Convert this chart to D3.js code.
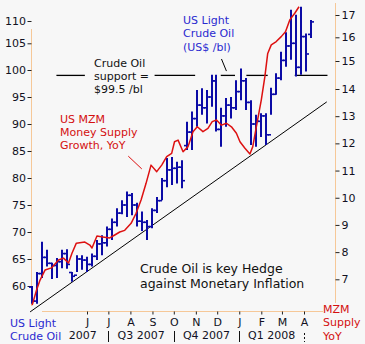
<!DOCTYPE html>
<html><head><meta charset="utf-8">
<script src="https://cdn.jsdelivr.net/npm/d3@7"></script>
<style>
html,body{margin:0;padding:0;background:#f7f7f7;}
svg{display:block;font-family:"DejaVu Sans",Verdana,sans-serif;}
</style></head>
<body><svg id="c" width="365" height="344"></svg>
<script>
// ---- data ----
const weekDates = ["2007-03-16","2007-03-23","2007-03-30","2007-04-06","2007-04-13","2007-04-20","2007-04-27",
"2007-05-04","2007-05-11","2007-05-18","2007-05-25","2007-06-01","2007-06-08","2007-06-15","2007-06-22","2007-06-29",
"2007-07-06","2007-07-13","2007-07-20","2007-07-27","2007-08-03","2007-08-10","2007-08-17","2007-08-24","2007-08-31",
"2007-09-07","2007-09-14","2007-09-21","2007-09-28","2007-10-05","2007-10-12","2007-10-19","2007-10-26",
"2007-11-02","2007-11-09","2007-11-16","2007-11-23","2007-11-30","2007-12-07","2007-12-14","2007-12-21","2007-12-28",
"2008-01-04","2008-01-11","2008-01-18","2008-01-25","2008-02-01","2008-02-08","2008-02-15","2008-02-22","2008-02-29",
"2008-03-07","2008-03-14","2008-03-21","2008-03-28","2008-04-04","2008-04-11"];
const oilHigh = [60.0,62.6,68.2,66.7,64.3,65.2,66.7,66.8,62.6,65.7,65.7,65.4,66.0,68.5,69.4,71.0,72.5,74.4,75.9,77.5,77.2,75.4,73.8,72.2,74.4,
76.5,80.0,83.7,83.9,83.0,83.3,90.4,92.3,96.3,96.6,96.3,99.1,99.1,93.0,94.8,95.0,98.1,100.3,98.5,94.4,91.7,92.0,92.0,96.7,99.4,103.4,
107.5,112.5,111.4,113.2,107.2,110.2];
const oilLow = [56.7,56.7,61.5,63.6,61.3,61.5,63.3,63.2,60.8,62.6,63.0,62.6,63.6,64.8,65.7,67.3,68.5,71.0,73.3,72.8,73.1,71.0,70.2,68.5,70.7,
73.5,75.9,78.3,78.7,79.0,78.1,85.2,85.2,89.5,91.7,90.1,93.2,88.6,85.8,89.5,91.0,92.6,94.4,92.6,86.1,85.8,87.6,86.1,91.7,95.4,98.1,
100.6,101.9,98.8,99.1,99.7,106.2];
const oilOpen = [59.8,57.2,62.3,65.3,64.2,63.8,64.5,66.0,62.5,62.0,65.0,64.8,64.0,65.5,67.8,68.0,70.5,71.8,73.5,75.0,76.8,75.0,72.0,71.8,71.0,
74.0,75.8,79.5,81.5,81.8,82.0,86.0,88.5,91.0,93.5,93.0,95.0,98.0,89.0,91.5,93.5,93.0,96.0,98.0,94.0,90.0,90.5,91.5,88.0,95.5,98.5,
101.8,104.5,105.0,100.5,106.5,107.0];
const oilClose = [57.2,62.3,65.3,64.2,63.8,64.5,66.0,64.0,61.8,65.0,64.8,64.0,65.5,67.8,68.0,70.5,71.8,73.5,75.0,76.8,75.0,72.0,71.8,71.0,74.0,
75.8,79.5,81.5,81.8,82.0,79.5,88.5,91.0,93.5,93.0,95.0,98.0,89.0,91.5,93.5,93.0,96.0,98.0,94.0,90.0,90.5,91.5,88.0,95.5,98.5,101.8,
104.5,105.0,100.5,106.5,103.0,109.8];

const mzmDates = ["2007-03-16","2007-03-22","2007-03-27","2007-04-03","2007-04-12","2007-04-22","2007-04-29","2007-05-06","2007-05-11",
"2007-05-17","2007-05-29","2007-06-05","2007-06-08","2007-06-15","2007-06-23","2007-07-03","2007-07-10","2007-07-17","2007-07-24",
"2007-08-02","2007-08-09","2007-08-16","2007-08-23","2007-08-30","2007-09-07","2007-09-14","2007-09-21","2007-09-28","2007-10-02",
"2007-10-07","2007-10-14","2007-10-21","2007-10-28","2007-11-03","2007-11-11","2007-11-18","2007-11-24","2007-11-30","2007-12-07",
"2007-12-14","2007-12-21","2007-12-28","2008-01-02","2008-01-09","2008-01-16","2008-01-20","2008-01-25","2008-02-01","2008-02-06",
"2008-02-10","2008-02-15","2008-02-22","2008-02-29","2008-03-06","2008-03-12","2008-03-19","2008-03-25"];
const mzmYoY = [6.05,6.6,6.97,7.34,7.42,7.71,7.78,7.6,7.97,8.33,8.37,8.26,8.15,8.59,8.56,8.52,8.63,8.74,8.8,
9.06,9.43,9.92,10.53,11.2,10.96,11.2,11.51,11.63,12.06,12.12,11.69,11.88,12.43,12.61,12.43,12.55,12.8,12.86,12.67,
12.74,12.61,12.37,12.06,11.82,11.61,11.88,12.61,13.6,14.44,15.32,15.68,15.82,16.03,16.25,16.78,17.08,17.37];

const leftTicks = [60,65,70,75,80,85,90,95,100,105,110];
const rightTicks = [7,8,9,10,11,12,13,14,15,16,17];
const monthTicks = ["2007-06-01","2007-07-01","2007-08-01","2007-09-01","2007-10-01","2007-11-01","2007-12-01",
"2008-01-01","2008-02-01","2008-03-01","2008-04-01"];
const monthLabels = ["J","J","A","S","O","N","D","J","F","M","A"];
const quarterLabels = ["2007","Q3 2007","Q4 2007","Q1 2008"];
const quarterStarts = ["2007-04-20","2007-07-01","2007-10-01","2008-01-01"];
const quarterEnds   = ["2007-07-01","2007-10-01","2008-01-01","2008-04-01"];
const quarterDividers = ["2007-07-01","2007-10-01","2008-01-01","2008-04-01"];

const trendLine = [["2007-03-13",55.2],["2008-05-03",94.1]];
const supportLevel = 99.0;
const supportSegments = [["2007-04-19","2007-05-29"],["2007-09-04","2007-10-31"],["2007-12-06","2007-12-26"],
["2008-01-11","2008-02-10"],["2008-03-19","2008-05-04"]];
const mzmPointer = [["2007-07-29",11.53],["2007-08-17",11.06]];
const oilPointer = [["2007-12-07",102.06],["2007-12-14",99.8]];

// ---- drawing ----
const P = d3.timeParse("%Y-%m-%d");
const svg = d3.select("#c");
const BLUE = "#0b0ba6", RED = "#dd1111", AX = "#f6c898", TXT = "#111122";

const x = d3.scaleTime().domain([P("2007-06-01"), P("2008-04-01")]).range([87, 304]);
const yL = d3.scaleLinear().domain([60,100,105,110]).range([286,70,43.3,21]);
const yR = d3.scaleLinear().domain([7,14,15,16,17]).range([279.3,89,61,37.3,15]);

svg.append("rect").attr("width",365).attr("height",344).attr("fill","#f7f7f7");

// axis lines
svg.append("line").attr("x1",31.5).attr("x2",31.5).attr("y1",29).attr("y2",306).attr("stroke",AX).attr("stroke-width",1);
svg.append("line").attr("x1",335.5).attr("x2",335.5).attr("y1",3).attr("y2",303).attr("stroke",AX).attr("stroke-width",1);
svg.append("line").attr("x1",42).attr("x2",323).attr("y1",311.5).attr("y2",311.5).attr("stroke",AX).attr("stroke-width",1);

// left axis
const gl = svg.append("g").attr("transform","translate(31.5,0)")
  .call(d3.axisLeft(yL).tickValues(leftTicks).tickSize(4).tickPadding(1.5).tickFormat(d3.format("d")));
gl.select(".domain").remove();
gl.selectAll(".tick line").attr("stroke","#222");
gl.selectAll("text").attr("font-family","DejaVu Sans").attr("font-size",11).attr("fill",TXT);

// right axis
const gr = svg.append("g").attr("transform","translate(335.5,0)")
  .call(d3.axisRight(yR).tickValues(rightTicks).tickSize(4).tickPadding(2).tickFormat(d3.format("d")));
gr.select(".domain").remove();
gr.selectAll(".tick line").attr("stroke","#222");
gr.selectAll("text").attr("font-family","DejaVu Sans").attr("font-size",11).attr("fill",TXT);

// bottom month axis
const gb = svg.append("g").attr("transform","translate(0,311.5)")
  .call(d3.axisBottom(x).tickValues(monthTicks.map(P)).tickSize(3).tickPadding(3.5)
    .tickFormat((d,i)=>monthLabels[i]));
gb.select(".domain").remove();
gb.selectAll(".tick line").attr("stroke","#222");
gb.selectAll("text").attr("font-family","DejaVu Sans").attr("font-size",11).attr("fill",TXT);

// quarter labels and dividers
svg.append("g").selectAll("text").data(quarterLabels).join("text")
  .attr("x",(d,i)=>(x(P(quarterStarts[i]))+x(P(quarterEnds[i])))/2).attr("y",339)
  .attr("text-anchor","middle").attr("font-size",11).attr("fill",TXT).text(d=>d);
svg.append("g").selectAll("line").data(quarterDividers).join("line")
  .attr("x1",d=>Math.round(x(P(d)))+0.5).attr("x2",d=>Math.round(x(P(d)))+0.5)
  .attr("y1",(d,i)=>i===3?333:331).attr("y2",342)
  .attr("stroke","#111").attr("stroke-dasharray",(d,i)=>i===3?"2,2":null);

// trend line
svg.append("line")
  .attr("x1",x(P(trendLine[0][0]))).attr("y1",yL(trendLine[0][1]))
  .attr("x2",x(P(trendLine[1][0]))).attr("y2",yL(trendLine[1][1]))
  .attr("stroke","#000").attr("stroke-width",1);

// support segments
svg.append("g").selectAll("line").data(supportSegments).join("line")
  .attr("x1",d=>x(P(d[0]))).attr("x2",d=>x(P(d[1])))
  .attr("y1",yL(supportLevel)).attr("y2",yL(supportLevel))
  .attr("stroke","#000").attr("stroke-width",1.3);

// OHLC bars
const bars = weekDates.map((d,i)=>({date:P(d),o:oilOpen[i],h:oilHigh[i],l:oilLow[i],c:oilClose[i]}));
const gBars = svg.append("g").attr("stroke",BLUE).attr("stroke-width",2);
gBars.selectAll(".hl").data(bars).join("line")
  .attr("x1",d=>Math.round(x(d.date))).attr("x2",d=>Math.round(x(d.date)))
  .attr("y1",d=>yL(d.h)).attr("y2",d=>yL(d.l));
gBars.selectAll(".o").data(bars).join("line")
  .attr("x1",d=>Math.round(x(d.date))-3).attr("x2",d=>Math.round(x(d.date)))
  .attr("y1",d=>yL(d.o)).attr("y2",d=>yL(d.o)).attr("stroke-width",1.6);
gBars.selectAll(".c").data(bars).join("line")
  .attr("x1",d=>Math.round(x(d.date))).attr("x2",d=>Math.round(x(d.date))+3)
  .attr("y1",d=>yL(d.c)).attr("y2",d=>yL(d.c)).attr("stroke-width",1.6);

// MZM line
const mzm = mzmDates.map((d,i)=>({date:P(d),v:mzmYoY[i]}));
svg.append("path").datum(mzm)
  .attr("d",d3.line().x(d=>x(d.date)).y(d=>yR(d.v)))
  .attr("fill","none").attr("stroke",RED).attr("stroke-width",1.5).attr("stroke-linejoin","round");

// pointers
svg.append("line").attr("x1",x(P(mzmPointer[0][0]))).attr("y1",yR(mzmPointer[0][1]))
  .attr("x2",x(P(mzmPointer[1][0]))).attr("y2",yR(mzmPointer[1][1])).attr("stroke",RED).attr("stroke-width",1);
svg.append("line").attr("x1",x(P(oilPointer[0][0]))).attr("y1",yL(oilPointer[0][1]))
  .attr("x2",x(P(oilPointer[1][0]))).attr("y2",yL(oilPointer[1][1])).attr("stroke","#000").attr("stroke-width",1);

// text annotations
function block(lines, x0, y0, dy, color, size){
  const t = svg.append("text").attr("font-size",size).attr("fill",color);
  lines.forEach((s,i)=>t.append("tspan").attr("x",x0).attr("y",y0+i*dy).text(s));
}
block(["US Light","Crude Oil","(US$ /bl)"],183,24,13.3,"#2a2ad0",11);
block(["Crude Oil","support =","$99.5 /bl"],94,66.5,13,"#111",11);
block(["US MZM","Money Supply","Growth, YoY"],60,122.5,13.3,"#d41010",11);
block(["Crude Oil is key Hedge","against Monetary Inflation"],140,272.5,15,"#111",12.5);
block(["US Light","Crude Oil"],10,327,12.5,"#2a2ad0",11);
block(["MZM","Supply","YoY"],323,312.5,13.5,"#d41010",11);
</script>
</body></html>
